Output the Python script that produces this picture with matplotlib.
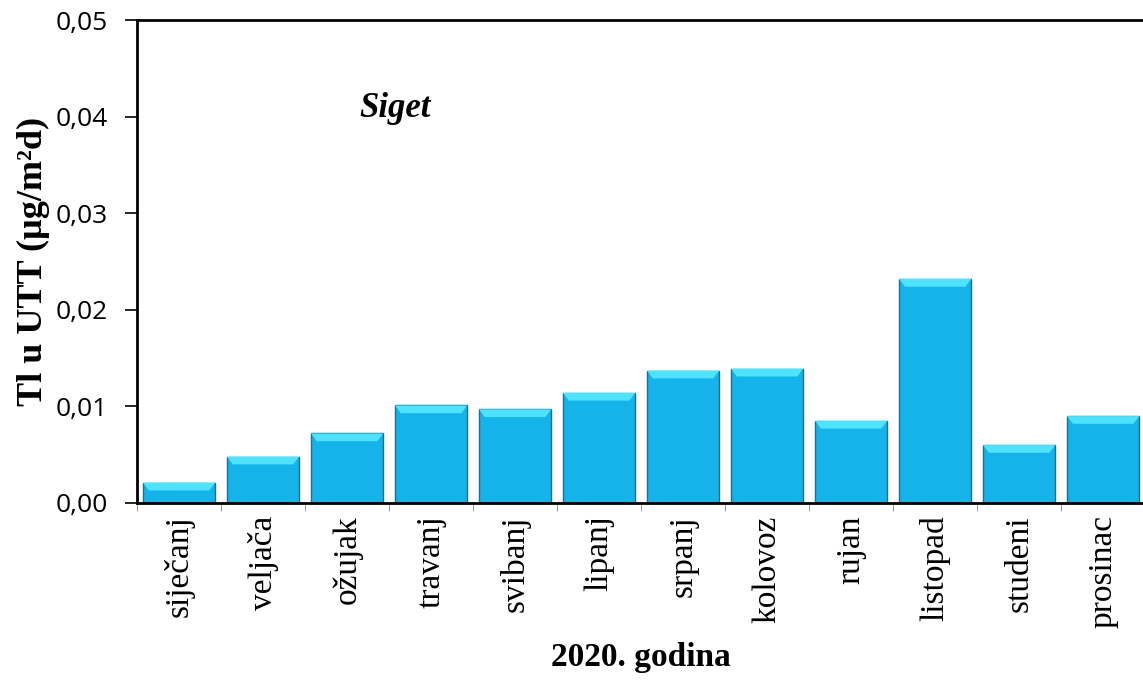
import numpy as np
import matplotlib
matplotlib.use("Agg")
import matplotlib.pyplot as plt
from matplotlib.ticker import FuncFormatter, FixedLocator

# Data
months = ["siječanj", "veljača", "ožujak", "travanj", "svibanj", "lipanj",
          "srpanj", "kolovoz", "rujan", "listopad", "studeni", "prosinac"]
tl_values = [0.0021, 0.0048, 0.0072, 0.0101, 0.0097, 0.0114,
             0.0137, 0.0139, 0.0085, 0.0232, 0.0060, 0.0090]
station = "Siget"

fig = plt.figure(figsize=(11.43, 6.81), dpi=100)
ax = fig.add_axes([0.1199, 0.2614, 0.882, 0.709])

x = np.arange(len(months))
width = 0.86
bars = ax.bar(x, tl_values, width=width, color="#14b4ea",
              edgecolor="#1d6f8c", linewidth=1.0, zorder=2)

# light bevel on top of each bar
bevel_h = 0.0008
inset = 0.07
for xi, v in zip(x, tl_values):
    left, right = xi - width / 2, xi + width / 2
    ax.fill([left, right, right - inset, left + inset],
            [v, v, v - bevel_h, v - bevel_h],
            color="#4fe2fa", lw=0, zorder=3)

ax.set_xlim(-0.5, len(months) - 0.5)
ax.set_ylim(0, 0.05)
ax.set_yticks(np.arange(0, 0.051, 0.01))
ax.yaxis.set_major_formatter(FuncFormatter(lambda v, p: f"{v:.2f}".replace(".", ",")))

ax.set_xticks(x)
ax.set_xticklabels(months, rotation=90, family="Liberation Serif", fontsize=24)
ax.xaxis.set_minor_locator(FixedLocator(np.arange(-0.5, len(months), 1)))
ax.tick_params(axis="x", which="major", length=0, pad=9)
ax.tick_params(axis="x", which="minor", length=6, color="#888888", direction="out")
ax.tick_params(axis="y", length=9, width=1.2, direction="out", labelsize=19, pad=12)
for lab in ax.get_yticklabels():
    lab.set_family("Open Sans")

for side in ["left", "top", "bottom"]:
    ax.spines[side].set_linewidth(2.0)
ax.spines["right"].set_visible(False)

ax.set_ylabel("Tl u UTT (µg/m²d)", family="Liberation Serif",
              fontweight="bold", fontsize=26, labelpad=4)
ax.set_xlabel("2020. godina", family="Liberation Serif",
              fontweight="bold", fontsize=24, labelpad=10)

ax.text(2.57, 0.0409, station, family="Liberation Serif", fontweight="bold",
        style="italic", fontsize=25, ha="center", va="center")

fig.savefig("out.png", dpi=100)
